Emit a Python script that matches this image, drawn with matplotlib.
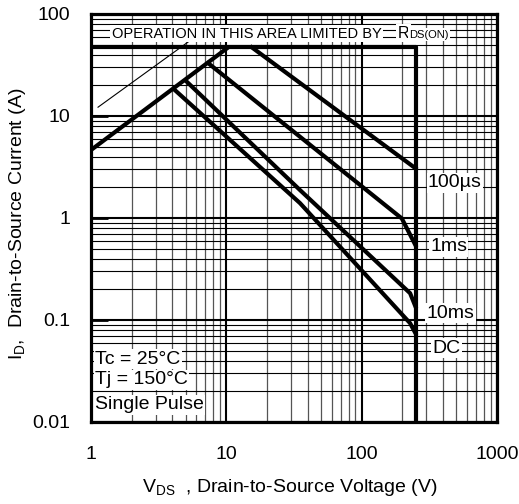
import matplotlib
matplotlib.use("Agg")
from matplotlib import pyplot as plt
from matplotlib.ticker import LogLocator, NullFormatter, FixedLocator, FixedFormatter

plt.rcParams['font.family'] = ['Liberation Sans', 'DejaVu Sans']

# curves (V, A)
rds_v = [1, 10.35]
rds_i = [4.64, 47.2]
lim_v = [1, 250, 250]
lim_i = [47.2, 47.2, 0.01]
us100_v = [15.4, 250]
us100_i = [47.2, 3.07]
ms1_v = [7.36, 198, 250]
ms1_i = [32.9, 0.99, 0.54]
ms10_v = [5.1, 35.0, 228, 250]
ms10_i = [21.7, 1.88, 0.183, 0.135]
dc_v = [4.1, 35.0, 228, 250]
dc_i = [18.3, 1.40, 0.093, 0.074]
arrow_v = [1.127, 5.87]
arrow_i = [12.2, 59.5]

x_ticks = [1, 10, 100, 1000]
x_labels = ['1', '10', '100', '1000']
y_ticks = [0.01, 0.1, 1, 10, 100]
y_labels = ['0.01', '0.1', '1', '10', '100']

fig = plt.figure(figsize=(5.19, 5.04), dpi=100)
ax = fig.add_axes([91/519, 1-422/504, 406/519, 408/504])
ax.set_xscale('log')
ax.set_yscale('log')
ax.set_xlim(1, 1000)
ax.set_ylim(0.01, 100)

# grid
ax.xaxis.set_minor_locator(LogLocator(base=10, subs=range(2, 10)))
ax.yaxis.set_minor_locator(LogLocator(base=10, subs=range(2, 10)))
ax.xaxis.set_minor_formatter(NullFormatter())
ax.yaxis.set_minor_formatter(NullFormatter())
ax.grid(which='minor', axis='x', color='#555555', lw=0.9)
ax.grid(which='minor', axis='y', color='black', lw=0.8)
ax.grid(which='major', axis='both', color='black', lw=1.5)

ax.xaxis.set_major_locator(FixedLocator(x_ticks))
ax.xaxis.set_major_formatter(FixedFormatter(x_labels))
ax.yaxis.set_major_locator(FixedLocator(y_ticks))
ax.yaxis.set_major_formatter(FixedFormatter(y_labels))
ax.tick_params(axis='y', which='major', direction='in', length=12, width=2,
               pad=15, labelsize=14)
ax.tick_params(axis='x', which='major', length=0, pad=17, labelsize=14)
ax.tick_params(which='minor', length=0)
for s in ax.spines.values():
    s.set_linewidth(2.3)

lw = 3
ax.plot(rds_v, rds_i, color='black', lw=lw, solid_capstyle='butt')
ax.plot(lim_v, lim_i, color='black', lw=lw)
ax.plot(us100_v, us100_i, color='black', lw=lw)
ax.plot(ms1_v, ms1_i, color='black', lw=lw)
ax.plot(ms10_v, ms10_i, color='black', lw=lw)
ax.plot(dc_v, dc_i, color='black', lw=lw)
ax.plot(arrow_v, arrow_i, color='black', lw=0.8)

box = dict(facecolor='white', edgecolor='none', pad=1)
ax.text(0.051, 0.942, 'OPERATION IN THIS AREA LIMITED BY', transform=ax.transAxes,
        fontsize=10.5, va='baseline', ha='left', bbox=box)
ax.text(0.756, 0.942, 'R', transform=ax.transAxes, fontsize=11.5,
        va='baseline', ha='left', bbox=box)
ax.text(0.783, 0.942, 'DS(ON)', transform=ax.transAxes, fontsize=8,
        va='baseline', ha='left', bbox=box)

for txt, xf, yf in [('100µs', 0.830, 0.586), ('1ms', 0.835, 0.429),
                    ('10ms', 0.827, 0.267), ('DC', 0.842, 0.181)]:
    ax.text(xf, yf, txt, transform=ax.transAxes, fontsize=14,
            va='center', ha='left', bbox=box)

for txt, yf in [('Tc = 25°C', 0.154), ('Tj = 150°C', 0.103), ('Single Pulse', 0.042)]:
    ax.text(0.01, yf, txt, transform=ax.transAxes, fontsize=14,
            va='center', ha='left', bbox=box)

fig.text(18/519, 1-224/504, r'$\mathregular{I_D}$,  Drain-to-Source Current (A)',
         rotation=90, fontsize=14, ha='center', va='center')
fig.text(290/519, 1-488/504, r'$\mathregular{V_{DS}}$  , Drain-to-Source Voltage (V)',
         fontsize=14, ha='center', va='center')

fig.savefig('out.png', dpi=100)
